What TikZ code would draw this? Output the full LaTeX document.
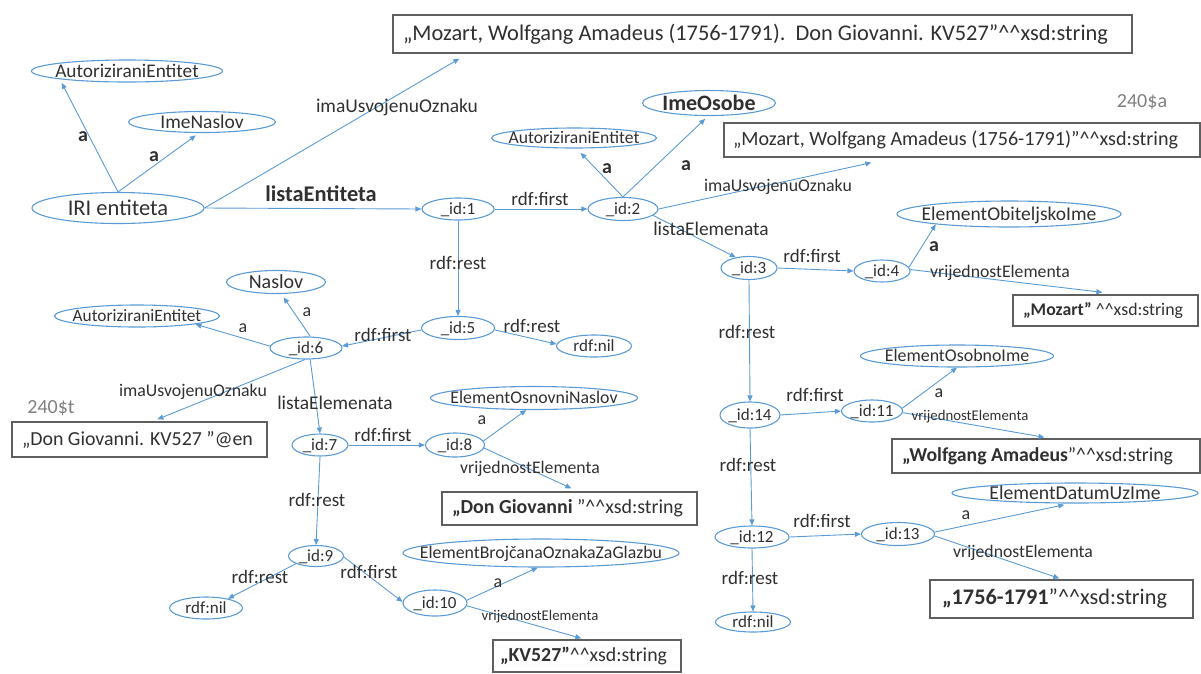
\documentclass[tikz,border=0pt]{standalone}
\usepackage{fontspec}
\setmainfont{Carlito}
\usepackage{graphicx}
\usetikzlibrary{arrows.meta,shapes.geometric}
\definecolor{eb}{HTML}{5B9BD5}
\definecolor{tx}{HTML}{303030}
\definecolor{bx}{HTML}{5F5F5F}
\definecolor{gr}{HTML}{808080}
\newcommand\cc{\textasciicircum\textasciicircum}
\newcommand\fs[1]{\fontsize{#1}{#1}\selectfont}
\newcommand\zt[1]{\raisebox{-0.32em}[0pt][0pt]{\makebox[0pt]{#1}}}
\newcommand\bt[4]{\makebox[#1pt][l]{\hspace*{#2pt}\resizebox{#3pt}{!}{\fs{20}#4}}}
\begin{document}
\begin{tikzpicture}[x=1pt,y=-1pt,
  ell/.style={draw=eb,line width=1.1pt,ellipse,inner sep=0pt,text=tx},
  box/.style={draw=bx,line width=1.3pt,rectangle,inner sep=0pt,text=tx},
  lbl/.style={inner sep=0pt,text=tx},
  fz/.style={font=\fs{#1}},
  ab/.style={lbl,font=\fs{20}\bfseries},
  arr/.style={draw=eb,line width=0.9pt,-{Triangle[length=6pt,width=5pt]}},
  gap/.style={shorten >=4pt}]
\useasboundingbox (0,0) rectangle (1201,673);

% ---------- ellipses ----------
\node[ell,minimum width=191pt,minimum height=22pt,fz=19.3] (ae1) at (127,71) {\zt{AutoriziraniEntitet}};
\node[ell,minimum width=147pt,minimum height=21pt,fz=19.5] (imenaslov) at (202,122) {\zt{ImeNaslov}};
\node[ell,minimum width=172pt,minimum height=31pt,fz=22.5] (iri) at (118,208) {\zt{IRI entiteta}};
\node[ell,minimum width=72pt,minimum height=22pt,fz=17] (id1) at (458,209) {\zt{\_id:1}};
\node[ell,minimum width=70pt,minimum height=23pt,fz=17] (id2) at (623,209) {\zt{\_id:2}};
\node[ell,minimum width=165pt,minimum height=20pt,fz=17.6] (ae2) at (574,138) {\zt{AutoriziraniEntitet}};
\node[ell,minimum width=133pt,minimum height=25pt,font=\fs{22}\bfseries] (imeosobe) at (709,103) {\zt{ImeOsobe}};
\node[ell,minimum width=56pt,minimum height=23pt,fz=17] (id3) at (749,268) {\zt{\_id:3}};
\node[ell,minimum width=56pt,minimum height=22pt,fz=17] (id4) at (882,271) {\zt{\_id:4}};
\node[ell,minimum width=224pt,minimum height=26pt,fz=19.5] (eoi) at (1009,214) {\zt{ElementObiteljskoIme}};
\node[ell,minimum width=73pt,minimum height=23pt,fz=17] (id5) at (458,328) {\zt{\_id:5}};
\node[ell,minimum width=75pt,minimum height=22pt,fz=17] (nil1) at (594,346) {\zt{rdf:nil}};
\node[ell,minimum width=72pt,minimum height=22pt,fz=17] (id6) at (306,348) {\zt{\_id:6}};
\node[ell,minimum width=99pt,minimum height=23pt,fz=20] (naslov) at (276,282) {\zt{Naslov}};
\node[ell,minimum width=165pt,minimum height=22pt,fz=17.3] (ae3) at (137,316) {\zt{AutoriziraniEntitet}};
\node[ell,minimum width=56pt,minimum height=22pt,fz=17] (id7) at (320,445) {\zt{\_id:7}};
\node[ell,minimum width=59pt,minimum height=24pt,fz=17] (id8) at (455,445) {\zt{\_id:8}};
\node[ell,minimum width=207pt,minimum height=23pt,fz=17.8] (eon) at (534,398) {\zt{ElementOsnovniNaslov}};
\node[ell,minimum width=55pt,minimum height=21pt,fz=17] (id9) at (316,556) {\zt{\_id:9}};
\node[ell,minimum width=73pt,minimum height=22pt,fz=17] (nil2) at (206,608) {\zt{rdf:nil}};
\node[ell,minimum width=64pt,minimum height=26pt,fz=17] (id10) at (435,603) {\zt{\_id:10}};
\node[ell,minimum width=276pt,minimum height=28pt,fz=17.8] (ebo) at (541,553) {\zt{ElementBrojčanaOznakaZaGlazbu}};
\node[ell,minimum width=60pt,minimum height=26pt,fz=17] (id14) at (750,415) {\zt{\_id:14}};
\node[ell,minimum width=61pt,minimum height=22pt,fz=17] (id11) at (872,411) {\zt{\_id:11}};
\node[ell,minimum width=193pt,minimum height=22pt,fz=17.9] (eos) at (957,356) {\zt{ElementOsobnoIme}};
\node[ell,minimum width=74pt,minimum height=22pt,fz=17] (id12) at (752,537) {\zt{\_id:12}};
\node[ell,minimum width=73pt,minimum height=23pt,fz=17] (id13) at (898,534) {\zt{\_id:13}};
\node[ell,minimum width=246pt,minimum height=20pt,fz=19.7] (edu) at (1075,493) {\zt{ElementDatumUzIme}};
\node[ell,minimum width=75pt,minimum height=20pt,fz=17] (nil3) at (753,622) {\zt{rdf:nil}};

% ---------- boxes ----------
\node[box,minimum height=38pt] (top) at (762.5,34) {\bt{739}{10}{705}{„Mozart, Wolfgang Amadeus (1756-1791).\ \ Don Giovanni. KV527”\cc xsd:string}};
\node[box,minimum height=34pt] (box2) at (962,140) {\bt{476}{9}{445}{„Mozart, Wolfgang Amadeus (1756-1791)”\cc xsd:string}};
\node[box,minimum height=31pt] (moz) at (1105.5,310.5) {\bt{185}{10}{160}{\textbf{„Mozart”} \cc xsd:string}};
\node[box,minimum height=34pt] (wa) at (1046,456) {\bt{308}{10}{271}{\textbf{„Wolfgang Amadeus}”\cc xsd:string}};
\node[box,minimum height=38pt] (date) at (1061.5,599) {\bt{263}{12}{225}{\textbf{„1756-1791}”\cc xsd:string}};
\node[box,minimum height=35pt] (dg) at (139.5,439.5) {\bt{255}{10}{231}{„Don Giovanni. KV527 ”@en}};
\node[box,minimum height=33pt] (dg2) at (569.5,508.5) {\bt{255}{10}{231}{\textbf{„Don Giovanni} ”\cc xsd:string}};
\node[box,minimum height=32pt] (kv) at (587,656) {\bt{188}{7}{167}{\textbf{„KV527”}\cc xsd:string}};

% ---------- side notes ----------
\node[lbl,text=gr,fz=20] (n240a) at (1142,102) {240\$a};
\node[lbl,text=gr,fz=20] (n240t) at (51,408) {240\$t};

% ---------- connectors ----------
\draw[arr,gap] (iri.north) -- (ae1.187);
\draw[arr,gap] (iri.north) -- (imenaslov.255);
\draw[arr] (iri.east) -- ([xshift=67pt,yshift=-5pt]top.south west);
\draw[arr] (iri.east) -- (id1.west);
\draw[arr] (id1.east) -- (id2.west);
\draw[arr,shorten >=6pt] (id2.north) -- (ae2.283);
\draw[arr,gap] (id2.north) -- (imeosobe.266);
\draw[arr] (id2.east) -- ([xshift=148pt,yshift=-5pt]box2.south west);
\draw[arr] (id2.348) -- (id3.141);
\draw[arr] (id3.east) -- (id4.west);
\draw[arr] (id4.8) -- (eoi.188);
\draw[arr] (id4.3) -- ([xshift=90pt,yshift=2pt]moz.north west);
\draw[arr] (id1.south) -- (id5.north);
\draw[arr] (id5.357) -- (nil1.177);
\draw[arr] (id5.183) -- (id6.3);
\draw[arr] (id3.south) -- (id14.north);
\draw[arr,gap] (id6.69) -- (naslov.294);
\draw[arr] (id6.177) -- (ae3.352);
\draw[arr] (id6.265) -- ([xshift=146pt,yshift=2pt]dg.north west);
\draw[arr] (id6.290) -- (id7.north);
\draw[arr] (id7.east) -- (id8.west);
\draw[arr] (id8.8) -- (eon.237);
\draw[arr] (id8.354) -- ([xshift=130pt,yshift=3pt]dg2.north west);
\draw[arr] (id7.south) -- (id9.north);
\draw[arr] (id9.201) -- (nil2.23);
\draw[arr] (id9.358) -- (id10.178);
\draw[arr] (id10.5) -- (ebo.257);
\draw[arr] (id10.355) -- ([xshift=89pt,yshift=1pt]kv.north west);
\draw[arr] (id14.east) -- (id11.west);
\draw[arr] (id11.5) -- (eos.south);
\draw[arr] (id11.357) -- ([xshift=153pt,yshift=1pt]wa.north west);
\draw[arr] (id14.south) -- (id12.north);
\draw[arr] (id12.east) -- (id13.west);
\draw[arr,shorten >=6pt] (id13.3) -- (edu.245);
\draw[arr] (id13.357) -- ([xshift=130pt,yshift=1pt]date.north west);
\draw[arr] (id12.south) -- (nil3.north);

% ---------- connector labels ----------
\node[ab] (la1) at (83,137) {a};
\node[ab] (la2) at (154,157) {a};
\node[lbl,fz=19.5] (lu1) at (397,107) {imaUsvojenuOznaku};
\node[lbl,font=\fs{22.4}\bfseries] (lle) at (321,194) {listaEntiteta};
\node[lbl,fz=19] (lf1) at (540,199) {rdf:first};
\node[ab] (la3) at (607,169) {a};
\node[ab] (la4) at (686,166) {a};
\node[lbl,fz=17.8] (lu2) at (778,187) {imaUsvojenuOznaku};
\node[lbl,fz=19.4] (lel1) at (711,229) {listaElemenata};
\node[lbl,fz=19] (lf2) at (812,256) {rdf:first};
\node[ab] (la5) at (934,247) {a};
\node[lbl,fz=17.7] (lv1) at (1000,273) {vrijednostElementa};
\node[lbl,fz=19] (lr1) at (458,263) {rdf:rest};
\node[lbl,fz=19] (lr2) at (532,326) {rdf:rest};
\node[lbl,fz=19] (lf3) at (383,335) {rdf:first};
\node[lbl,fz=18] (la6) at (307,312) {a};
\node[lbl,fz=18] (la7) at (243,328) {a};
\node[lbl,fz=17.8] (lu3) at (193,392) {imaUsvojenuOznaku};
\node[lbl,fz=19.4] (lel2) at (335,403) {listaElemenata};
\node[lbl,fz=19] (lf4) at (383,435) {rdf:first};
\node[lbl,fz=18] (la8) at (482,420) {a};
\node[lbl,fz=17.7] (lv2) at (530,469) {vrijednostElementa};
\node[lbl,fz=19] (lr3) at (317,500) {rdf:rest};
\node[lbl,fz=19] (lr4) at (260,577) {rdf:rest};
\node[lbl,fz=19] (lf5) at (369,572) {rdf:first};
\node[lbl,fz=18] (la9) at (498,583) {a};
\node[lbl,fz=14.8] (lv3) at (540,617) {vrijednostElementa};
\node[lbl,fz=19] (lr5) at (747,332) {rdf:rest};
\node[lbl,fz=19] (lf6) at (815,395) {rdf:first};
\node[lbl,fz=18] (la10) at (939,393) {a};
\node[lbl,fz=14.8] (lv4) at (970,417) {vrijednostElementa};
\node[lbl,fz=19] (lr6) at (748,465) {rdf:rest};
\node[lbl,fz=19] (lf7) at (822,521) {rdf:first};
\node[lbl,fz=18] (la11) at (966,515) {a};
\node[lbl,fz=17.7] (lv5) at (1023,553) {vrijednostElementa};
\node[lbl,fz=19] (lr7) at (750,578) {rdf:rest};
\end{tikzpicture}
\end{document}
